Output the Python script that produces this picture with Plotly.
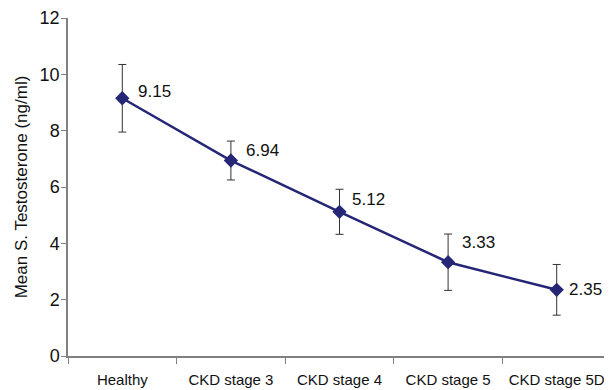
import plotly.graph_objects as go

categories = ["Healthy", "CKD stage 3", "CKD stage 4", "CKD stage 5", "CKD stage 5D"]
means = [9.15, 6.94, 5.12, 3.33, 2.35]
sd = [1.2, 0.69, 0.8, 1.0, 0.9]
labels = ["9.15", "6.94", "5.12", "3.33", "2.35"]

# label placement offsets (pixels) – styling only
label_dx = [14, 13, 10, 12, 10]
label_dy = [7, 10, 12, 20, 0]

fig = go.Figure()
fig.add_trace(go.Scatter(
    x=categories, y=means,
    mode="lines+markers",
    line=dict(color="#262676", width=2.5),
    marker=dict(symbol="diamond", size=11, color="#262676"),
    error_y=dict(type="data", array=sd, visible=True, color="#333333", thickness=1, width=4),
    showlegend=False,
))

for c, v, t, dx, dy in zip(categories, means, labels, label_dx, label_dy):
    fig.add_annotation(
        x=c, y=v, text=t, showarrow=False,
        xanchor="left", yanchor="middle", xshift=dx, yshift=dy,
        font=dict(family="Liberation Sans, Arial", size=17, color="#111111"),
    )

# the page body adds an 8px margin, so the figure is sized to fit inside 612x390
fig.update_layout(
    width=604, height=382,
    margin=dict(l=60, r=1, t=10, b=34),
    paper_bgcolor="white", plot_bgcolor="white",
    font=dict(family="Liberation Sans, Arial", size=15, color="#111111"),
)
fig.update_xaxes(
    type="category", tickson="boundaries", automargin=False,
    range=[-0.5, len(categories) - 0.5],
    showline=True, linecolor="#808080", linewidth=1.5,
    ticks="outside", ticklen=6, tickcolor="#808080",
    showgrid=False, zeroline=False,
    ticklabelstandoff=9,
    tickfont=dict(size=15),
)
fig.update_yaxes(
    range=[0, 12], dtick=2, automargin=False,
    showline=True, linecolor="#808080", linewidth=1.5,
    ticks="outside", ticklen=5, tickcolor="#808080",
    showgrid=False, zeroline=False,
    ticklabelstandoff=-2,
    title=dict(text="Mean S. Testosterone (ng/ml)", font=dict(size=17), standoff=8),
    tickfont=dict(size=18),
)

fig.write_html("out.html")
